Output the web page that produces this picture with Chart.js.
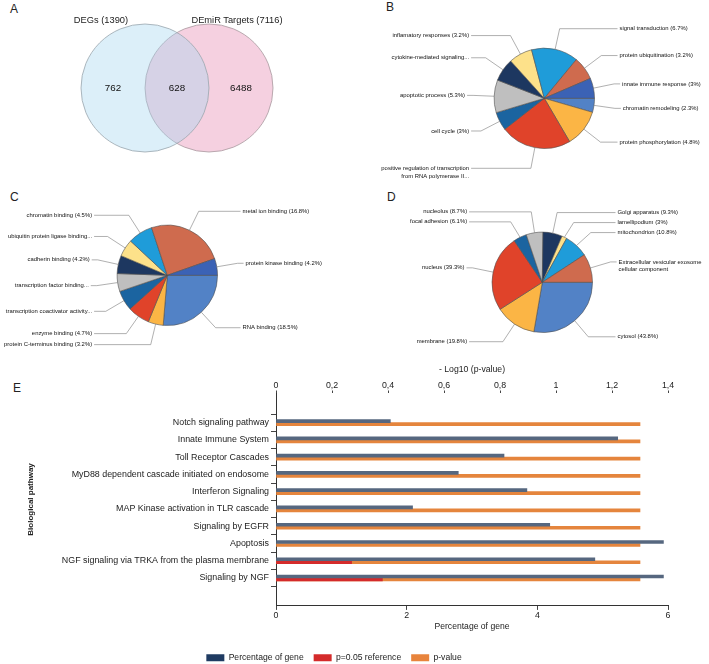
<!DOCTYPE html>
<html>
<head>
<meta charset="utf-8">
<script src="https://cdn.jsdelivr.net/npm/chart.js@4.4.1/dist/chart.umd.min.js"></script>
<style>
  html, body { margin: 0; padding: 0; background: #fff; }
  body { width: 709px; height: 664px; overflow: hidden; position: relative;
         font-family: "Liberation Sans", Arial, sans-serif; color: #222; }
  canvas { position: absolute; }
  .panel { position: absolute; font-family: "Liberation Sans", Arial, sans-serif; font-size: 12px; color: #222; line-height: 14px; }
  .vt { position: absolute; font-size: 9.3px; color: #222; transform: translate(-50%, -50%); white-space: nowrap; }
</style>
</head>
<body>
<div class="panel" style="left:10px;top:2px">A</div>
<div class="panel" style="left:386px;top:0px">B</div>
<div class="panel" style="left:10px;top:190px">C</div>
<div class="panel" style="left:387px;top:190px">D</div>
<div class="panel" style="left:13px;top:381px">E</div>

<canvas id="venn" width="360" height="180" style="left:0;top:0"></canvas>
<div class="vt" id="vt0" style="left:101px;top:20px"></div>
<div class="vt" id="vt1" style="left:237px;top:20px"></div>

<canvas id="pieB" width="349" height="180" style="left:360px;top:0"></canvas>
<canvas id="pieC" width="360" height="180" style="left:0;top:180px"></canvas>
<canvas id="pieD" width="349" height="180" style="left:360px;top:180px"></canvas>
<canvas id="bars" width="709" height="317" style="left:0;top:355px"></canvas>

<script>
// ---------------- DATA ----------------
// A: Venn
const vennSets = ['DEGs (1390)', 'DEmiR Targets (7116)'];
const vennRegionCounts = [762, 628, 6488];

// B: biological process (clockwise from 3 o'clock)
const bpLabels = [
  'chromatin remodeling (2.3%)',
  'protein phosphorylation (4.8%)',
  'positive regulation of transcription\nfrom RNA polymerase II...',
  'cell cycle (3%)',
  'apoptotic process (5.3%)',
  'cytokine-mediated signaling...',
  'inflamatory responses (3.2%)',
  'signal transduction (6.7%)',
  'protein ubiquitination (3.2%)',
  'innate immune response (3%)'
];
const bpValues = [16.2, 43.5, 82.3, 21.4, 37.9, 26.7, 27.3, 54.3, 27.1, 23.3];

// C: molecular function
const mfLabels = [
  'RNA binding (18.5%)',
  'protein C-terminus binding (3.2%)',
  'enzyme binding (4.7%)',
  'transcription coactivator activity...',
  'transcription factor binding...',
  'cadherin binding (4.2%)',
  'ubiquitin protein ligase binding...',
  'chromatin binding (4.5%)',
  'metal ion binding (16.8%)',
  'protein kinase binding (4.2%)'
];
const mfValues = [94.7, 17.5, 25.8, 23.3, 20.7, 21.0, 20.0, 28.7, 88.9, 19.4];

// D: cellular component
const ccLabels = [
  'cytosol (43.8%)',
  'membrane (19.8%)',
  'nucleus (39.3%)',
  'focal adhesion (6.1%)',
  'nucleolus (8.7%)',
  'Golgi apparatus (9.3%)',
  'lamellipodium (3%)',
  'mitochondrion (10.8%)',
  'Extracellular vesicular exosome\ncellular component'
];
const ccValues = [99.7, 47.7, 88.6, 15.4, 19.4, 22.4, 5.8, 27.8, 33.2];

// E: pathways
const pathways = [
  'Notch signaling pathway',
  'Innate Immune System',
  'Toll Receptor Cascades',
  'MyD88 dependent cascade initiated on endosome',
  'Interferon Signaling',
  'MAP Kinase activation in TLR cascade',
  'Signaling by EGFR',
  'Apoptosis',
  'NGF signaling via TRKA from the plasma membrane',
  'Signaling by NGF'
];
const percentageOfGene = [1.75, 5.23, 3.49, 2.79, 3.84, 2.09, 4.19, 5.93, 4.88, 5.93];
const pReference = [null, null, null, null, null, null, null, null, 0.27, 0.38];
const pValueLog10 = [1.30, 1.30, 1.30, 1.30, 1.30, 1.30, 1.30, 1.30, 1.30, 1.30];
const seriesNames = ['Percentage of gene', 'p=0.05 reference', 'p-value'];

// ---------------- STYLE ----------------
const FONT = '"Liberation Sans", Arial, sans-serif';
Chart.defaults.font.family = FONT;
Chart.defaults.color = '#222';

const C_MBLUE = '#5282c6', C_YORANGE = '#fbb545', C_RED = '#e0432a', C_TEAL = '#1b64a0',
      C_GREY = '#bfbfbf', C_NAVY = '#1d3760', C_LYELLOW = '#fde18a', C_LBLUE = '#1f9cd9',
      C_BROWN = '#cf6b4e', C_DBLUE = '#3b62b5';
const bpColors = [C_MBLUE, C_YORANGE, C_RED, C_TEAL, C_GREY, C_NAVY, C_LYELLOW, C_LBLUE, C_BROWN, C_DBLUE];
const mfColors = [C_MBLUE, C_YORANGE, C_RED, C_TEAL, C_GREY, C_NAVY, C_LYELLOW, C_LBLUE, C_BROWN, C_DBLUE];
const ccColors = [C_MBLUE, C_YORANGE, C_RED, C_TEAL, C_GREY, C_NAVY, C_LYELLOW, C_LBLUE, C_BROWN];
const legendColors = ['#1f3b62', '#d42b2b', '#e8843c'];

// ---------------- A: Venn ----------------
document.getElementById('vt0').textContent = vennSets[0];
document.getElementById('vt1').textContent = vennSets[1];

const vennText = {
  id: 'vennText',
  afterDatasetsDraw(chart) {
    const {ctx, scales: {x, y}} = chart;
    ctx.save();
    ctx.font = '9.8px ' + FONT;
    ctx.fillStyle = '#111';
    ctx.textAlign = 'center';
    ctx.textBaseline = 'middle';
    vennRegionCounts.forEach((c, i) => {
      ctx.fillText(String(c), x.getPixelForValue(i - 0.5), y.getPixelForValue(0));
    });
    ctx.restore();
  }
};

new Chart(document.getElementById('venn'), {
  type: 'scatter',
  data: {
    datasets: [
      { label: vennSets[0], data: [{x: 0, y: 0}], pointRadius: 64, pointHoverRadius: 64, clip: false,
        backgroundColor: 'rgba(163,213,239,0.38)', borderColor: '#9aa6ad', borderWidth: 0.8 },
      { label: vennSets[1], data: [{x: 1, y: 0}], pointRadius: 64, pointHoverRadius: 64, clip: false,
        backgroundColor: '#f5d0e0', borderColor: '#a89aa0', borderWidth: 0.8 }
    ]
  },
  options: {
    responsive: false, animation: false, events: [],
    layout: { padding: 0, autoPadding: false },
    scales: {
      x: { display: false, min: -145 / 64, max: 215 / 64 },
      y: { display: false, min: -92 / 90, max: 88 / 90 }
    },
    plugins: { legend: { display: false }, tooltip: { enabled: false } }
  },
  plugins: [vennText]
});

// ---------------- Pies ----------------
const leaderLabels = {
  id: 'leaderLabels',
  afterDatasetsDraw(chart, args, opts) {
    const ctx = chart.ctx;
    const meta = chart.getDatasetMeta(0);
    const labels = chart.data.labels;
    const items = meta.data.map((arc, i) => {
      const p = arc.getProps(['x', 'y', 'startAngle', 'endAngle', 'outerRadius'], true);
      const mid = (p.startAngle + p.endAngle) / 2;
      const c = Math.cos(mid), s = Math.sin(mid);
      return {
        cx: p.x, r: p.outerRadius,
        sx: p.x + p.outerRadius * c, sy: p.y + p.outerRadius * s,
        ex: p.x + p.outerRadius * opts.elbow * c, ey: p.y + p.outerRadius * opts.elbow * s,
        right: c >= 0, lines: String(labels[i]).split('\n')
      };
    });
    [true, false].forEach(side => {
      const group = items.filter(it => it.right === side).sort((a, b) => a.ey - b.ey);
      let last = -Infinity;
      group.forEach(it => {
        it.ly = Math.max(it.ey, last + opts.gap);
        last = it.ly + (it.lines.length - 1) * opts.lineHeight;
      });
    });
    ctx.save();
    ctx.strokeStyle = opts.lineColor;
    ctx.lineWidth = opts.lineWidth;
    ctx.font = opts.font;
    ctx.fillStyle = opts.color;
    ctx.textBaseline = 'middle';
    items.forEach(it => {
      const col = it.right ? Math.max(it.cx + it.r + opts.colOffset, it.ex + 6)
                           : Math.min(it.cx - it.r - opts.colOffset, it.ex - 6);
      ctx.beginPath();
      ctx.moveTo(it.sx, it.sy);
      ctx.lineTo(it.ex, it.ly);
      ctx.lineTo(col, it.ly);
      ctx.stroke();
      ctx.textAlign = it.right ? 'left' : 'right';
      it.lines.forEach((t, k) => ctx.fillText(t, col + (it.right ? 2 : -2), it.ly + k * opts.lineHeight));
    });
    ctx.restore();
  }
};

function makePie(id, labels, values, colors, cx, cy, r) {
  const cv = document.getElementById(id);
  const W = cv.width, H = cv.height;
  return new Chart(cv, {
    type: 'pie',
    data: { labels, datasets: [{ data: values, backgroundColor: colors, borderColor: '#505050',
      borderWidth: 0.6, hoverBorderWidth: 0.6, hoverOffset: 0, offset: 0 }] },
    options: {
      responsive: false, animation: false, events: [], rotation: 90,
      layout: { padding: { left: cx - r, top: cy - r, right: W - cx - r, bottom: H - cy - r } },
      plugins: {
        legend: { display: false }, tooltip: { enabled: false },
        leaderLabels: { elbow: 1.42, gap: 10, lineHeight: 7.6, colOffset: 23,
          font: '5.9px ' + FONT, color: '#111', lineColor: '#7a7a7a', lineWidth: 0.6 }
      }
    },
    plugins: [leaderLabels]
  });
}
makePie('pieB', bpLabels, bpValues, bpColors, 184.3, 98.3, 50.5);
makePie('pieC', mfLabels, mfValues, mfColors, 167.3, 95.3, 50.5);
makePie('pieD', ccLabels, ccValues, ccColors, 182.3, 102.3, 50.5);

// ---------------- E: bars ----------------
const fmtComma = v => String(Math.round(v * 10) / 10).replace('.', ',');
new Chart(document.getElementById('bars'), {
  type: 'bar',
  data: {
    datasets: [
      { label: seriesNames[0], data: pathways.map((_, i) => ({ x: percentageOfGene[i], y: i })),
        xAxisID: 'x', stack: 'g', backgroundColor: '#56677f', barThickness: 3 },
      { label: seriesNames[1], data: pathways.map((_, i) => ({ x: pReference[i], y: i })),
        xAxisID: 'x2', stack: 'p', backgroundColor: '#d42b2b', barThickness: 3 },
      { label: seriesNames[2], data: pathways.map((_, i) => ({ x: pValueLog10[i], y: i })),
        xAxisID: 'x2', stack: 'p', backgroundColor: '#e5853d', barThickness: 3 }
    ]
  },
  options: {
    indexAxis: 'y', responsive: false, animation: false, events: [],
    layout: { padding: { left: 0, right: 41, top: 0, bottom: 0 } },
    scales: {
      y: {
        type: 'linear', reverse: true, min: -1.1, max: 10,
        afterBuildTicks: s => { s.ticks = pathways.map((_, i) => ({ value: i })); },
        afterFit: s => { s.width = 276; },
        ticks: { autoSkip: false, callback: v => pathways[v], color: '#222', font: { size: 8.9 }, padding: 2 },
        grid: { drawOnChartArea: false, tickLength: 5, color: '#444' },
        border: { color: '#333', width: 1 },
        title: { display: true, text: 'Biological pathway', font: { size: 8, weight: 'bold' }, padding: { top: 26, bottom: 0 } }
      },
      x: {
        position: 'bottom', min: 0, max: 6, stacked: false,
        afterFit: s => { s.height = 37.5; },
        ticks: { stepSize: 2, padding: 0, font: { size: 8.8 }, color: '#222' },
        grid: { drawOnChartArea: false, tickLength: 4, color: '#444' },
        border: { color: '#333', width: 1 },
        title: { display: true, text: 'Percentage of gene', font: { size: 8.6 }, padding: { top: 0, bottom: 11.2 } }
      },
      x2: {
        position: 'top', min: 0, max: 1.4, stacked: false,
        afterFit: s => { s.height = 38; },
        ticks: { stepSize: 0.2, padding: 0, font: { size: 8.8 }, color: '#222', callback: v => fmtComma(v) },
        grid: { drawOnChartArea: false, tickLength: 2.5, color: '#444' },
        border: { display: false },
        title: { display: true, text: '- Log10 (p-value)', font: { size: 8.7 }, padding: { top: 9.8, bottom: 0 } }
      }
    },
    plugins: {
      tooltip: { enabled: false },
      legend: {
        position: 'bottom',
        labels: {
          boxWidth: 18, boxHeight: 7, padding: 10, font: { size: 8.6 }, color: '#222',
          generateLabels: chart => Chart.defaults.plugins.legend.labels.generateLabels(chart)
            .map((l, i) => Object.assign(l, { fillStyle: legendColors[i], strokeStyle: legendColors[i], lineWidth: 0 }))
        }
      }
    }
  }
});
</script>
</body>
</html>
